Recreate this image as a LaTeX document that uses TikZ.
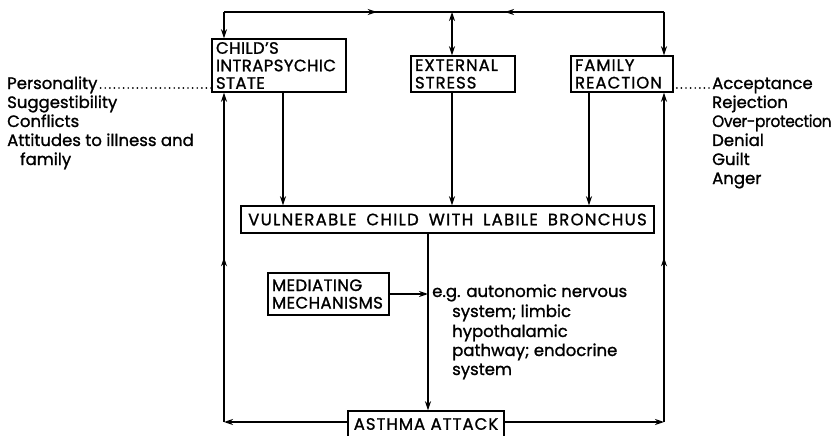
\documentclass[tikz,border=0pt]{standalone}
\usepackage{fontspec}
\setmainfont{Poppins}[FakeBold=1.2]
\newcommand\capsf{\fontsize{16.5}{17.5}\selectfont\addfontfeatures{LetterSpace=6}}
\newcommand\narrowcaps{\addfontfeatures{LetterSpace=2.5}}
\newcommand\widecaps{\addfontfeatures{LetterSpace=8}\spaceskip=10pt\relax}
\newcommand\labf{\fontsize{16.5}{19}\selectfont}
\usetikzlibrary{arrows.meta,decorations.markings}
\tikzset{
  ln/.style={line width=1.4pt},
  arr/.style={ln,-{Stealth[length=9pt,width=6pt]}},
  darr/.style={ln,{Stealth[length=9pt,width=6pt]}-{Stealth[length=9pt,width=6pt]}},
  midarr/.style={postaction={decorate},decoration={markings,
     mark=at position #1 with {\arrow{Stealth[length=9pt,width=6pt]}}}},
  box/.style={draw,ln,inner xsep=4pt,inner ysep=1pt,align=left,font=\capsf},
  lab/.style={anchor=base west,inner sep=0pt,font=\labf},
  dots/.style={line width=1.9pt,line cap=round,dash pattern=on 0pt off 4.6pt}
}
\begin{document}
\begin{tikzpicture}[x=1pt,y=-1pt]
\useasboundingbox (0,0) rectangle (839,436);
% boxes
\node[box,minimum width=134pt,minimum height=53pt,text width=126pt] (child) at (279,65.5)
  {\narrowcaps CHILD'S\\INTRAPSYCHIC\\STATE};
\node[box,minimum width=104pt,minimum height=36pt,text width=96pt] (ext) at (463,74)
  {EXTERNAL\\STRESS};
\node[box,minimum width=102pt,minimum height=36pt,text width=94pt] (fam) at (622,74)
  {FAMILY\\REACTION};
\node[box,minimum width=413pt,minimum height=27pt,align=center] (vuln) at (447.5,219.5)
  {\widecaps VULNERABLE CHILD WITH LABILE BRONCHUS};
\node[box,minimum width=121pt,minimum height=42pt,text width=113pt] (med) at (328.5,294)
  {\narrowcaps MEDIATING\\MECHANISMS};
\node[box,minimum width=156pt,minimum height=26pt,align=center] (asthma) at (426,424)
  {ASTHMA ATTACK};
% coordinates
\coordinate (TL) at (224,12);
\coordinate (TR) at (664,12);
\coordinate (tm) at (452,12);
\coordinate (BL) at (224,422);
\coordinate (BR) at (664,422);
\coordinate (cx) at (283,0);
\coordinate (ex) at (452,0);
\coordinate (fx) at (589,0);
\coordinate (vx) at (428,0);
% top loop
\draw[ln,midarr=0.67] (TL) -- (tm);
\draw[ln,midarr=0.75] (TR) -- (tm);
\draw[arr] (TL) -- (child.north -| TL);
\draw[arr] (TR) -- (fam.north -| TR);
\draw[darr] (tm) -- (ext.north -| tm);
% into vulnerable
\draw[arr] (child.south -| cx) -- (vuln.north -| cx);
\draw[arr] (ext.south -| ex) -- (vuln.north -| ex);
\draw[arr] (fam.south -| fx) -- (vuln.north -| fx);
% vulnerable to asthma
\draw[arr] (vuln.south -| vx) -- (asthma.north -| vx);
\draw[arr] (med.east) -- (med.east -| vx);
% asthma feedback
\draw[arr] (asthma.west |- BL) -- (BL);
\draw[arr] (asthma.east |- BR) -- (BR);
\draw[arr,midarr=0.5] (BL) -- (child.south -| BL);
\draw[arr,midarr=0.5] (BR) -- (fam.south -| BR);
% left list
\node[lab] (pers) at (7,89) {Personality};
\node[lab] (sugg) at (7,108) {Suggestibility};
\node[lab] (conf) at (7,127) {Conflicts};
\node[lab] (att) at (7,146) {Attitudes to illness and};
\node[lab] (famly) at (20,165) {family};
\draw[dots] ([xshift=3pt]pers.base east) ++(0,-1) coordinate (pd) -- (child.west |- pd);
% right list
\node[lab] (acc) at (712,89) {Acceptance};
\node[lab] (rej) at (712,108) {Rejection};
\node[lab] (over) at (712,127) {\scalebox{0.93}[1]{\addfontfeatures{LetterSpace=-2}Over-protection}};
\node[lab] (den) at (712,146) {Denial};
\node[lab] (guilt) at (712,165) {Guilt};
\node[lab] (anger) at (712,184) {Anger};
\draw[dots] ([xshift=-3pt]acc.base west) ++(0,-1) coordinate (ad) -- (fam.east |- ad);
% e.g. text
\node[lab] (eg1) at (432,297) {e.g. autonomic nervous};
\node[lab] (eg2) at (452,317) {system; limbic};
\node[lab] (eg3) at (452,337) {hypothalamic};
\node[lab] (eg4) at (452,356) {pathway; endocrine};
\node[lab] (eg5) at (452,375) {system};
\end{tikzpicture}
\end{document}
